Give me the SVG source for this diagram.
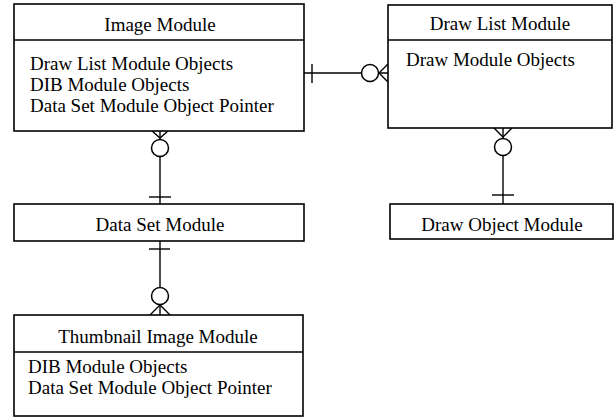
<svg xmlns="http://www.w3.org/2000/svg" width="616" height="417" viewBox="0 0 616 417">
<style>
.box{fill:#fff;stroke:#000;stroke-width:1.6}
.div{stroke:#000;stroke-width:1.4}
.t{font-family:"Liberation Serif","Times New Roman",serif;font-size:19px;fill:#000}
.c{text-anchor:middle}
.ln{stroke:#000;stroke-width:1.4;fill:none}
.ring{fill:#fff;stroke:#000;stroke-width:1.5}
</style>
<rect width="616" height="417" fill="#fff"/>
<g id="connectors">
  <!-- Image Module - Data Set Module -->
  <line class="ln" x1="160" y1="131" x2="160" y2="204"/>
  <polyline class="ln" points="151,130 160,138 169,130"/>
  <circle class="ring" cx="160" cy="148" r="8.5"/>
  <line class="ln" x1="149" y1="197" x2="171" y2="197"/>
  <!-- Data Set Module - Thumbnail Image Module -->
  <line class="ln" x1="160" y1="241" x2="160" y2="315"/>
  <line class="ln" x1="149" y1="249" x2="170" y2="249"/>
  <polyline class="ln" points="150,315 160,305 170,315"/>
  <circle class="ring" cx="160" cy="296" r="8.5"/>
  <!-- Image Module - Draw List Module -->
  <line class="ln" x1="304" y1="73" x2="388" y2="73"/>
  <line class="ln" x1="312" y1="64" x2="312" y2="83"/>
  <polyline class="ln" points="388,64 379,73 388,82"/>
  <circle class="ring" cx="370" cy="73" r="8.5"/>
  <!-- Draw List Module - Draw Object Module -->
  <line class="ln" x1="503" y1="128" x2="503" y2="204"/>
  <polyline class="ln" points="494,128 503,137 512,128"/>
  <circle class="ring" cx="503" cy="147" r="8.5"/>
  <line class="ln" x1="492" y1="195" x2="514" y2="195"/>
</g>
<g id="image-module">
  <rect class="box" x="14" y="4" width="290" height="127"/>
  <line class="div" x1="14" y1="40" x2="304" y2="40"/>
  <text class="t c" x="160" y="31">Image Module</text>
  <text class="t" x="30" y="70">Draw List Module Objects</text>
  <text class="t" x="30" y="91">DIB Module Objects</text>
  <text class="t" x="30" y="112">Data Set Module Object Pointer</text>
</g>
<g id="draw-list-module">
  <rect class="box" x="388" y="5" width="224" height="123"/>
  <line class="div" x1="388" y1="40" x2="612" y2="40"/>
  <text class="t c" x="500" y="30">Draw List Module</text>
  <text class="t" x="406" y="66">Draw Module Objects</text>
</g>
<g id="data-set-module">
  <rect class="box" x="14" y="204" width="290" height="37"/>
  <text class="t c" x="160" y="231">Data Set Module</text>
</g>
<g id="draw-object-module">
  <rect class="box" x="390" y="204" width="223" height="35"/>
  <text class="t c" x="502" y="231">Draw Object Module</text>
</g>
<g id="thumbnail-image-module">
  <rect class="box" x="14" y="315" width="289" height="101"/>
  <line class="div" x1="14" y1="352" x2="303" y2="352"/>
  <text class="t c" x="158" y="343">Thumbnail Image Module</text>
  <text class="t" x="28" y="373">DIB Module Objects</text>
  <text class="t" x="28" y="394">Data Set Module Object Pointer</text>
</g>
</svg>
